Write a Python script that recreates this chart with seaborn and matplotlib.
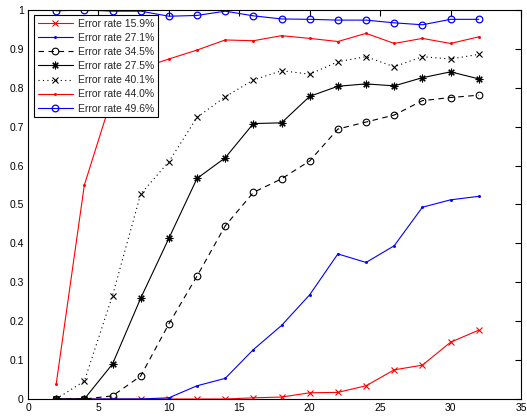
import matplotlib
matplotlib.use("Agg")
import matplotlib.pyplot as plt
import seaborn as sns
import pandas as pd
from matplotlib.ticker import FuncFormatter, MultipleLocator

sns.set_style("white")
plt.rcParams["font.family"] = ["Liberation Sans", "DejaVu Sans"]

# Shared x grid
steps = [2, 4, 6, 8, 10, 12, 14, 16, 18, 20, 22, 24, 26, 28, 30, 32]

err_159 = [0, 0, 0, 0, 0, 0, 0, 0.003, 0.005, 0.016, 0.017, 0.034, 0.075, 0.087, 0.146, 0.177]
err_271 = [0, 0, 0, 0, 0.003, 0.034, 0.053, 0.127, 0.189, 0.268, 0.373, 0.351, 0.394, 0.493, 0.512, 0.521]
err_345 = [0, 0, 0.008, 0.059, 0.193, 0.316, 0.445, 0.531, 0.566, 0.612, 0.694, 0.712, 0.730, 0.767, 0.775, 0.781]
err_275 = [0, 0, 0.090, 0.259, 0.413, 0.567, 0.620, 0.708, 0.710, 0.778, 0.804, 0.810, 0.805, 0.826, 0.841, 0.823]
err_401 = [0, 0.046, 0.266, 0.527, 0.610, 0.724, 0.777, 0.820, 0.844, 0.835, 0.867, 0.880, 0.854, 0.880, 0.874, 0.886]
err_440 = [0.038, 0.550, 0.780, 0.850, 0.874, 0.897, 0.923, 0.921, 0.934, 0.927, 0.919, 0.940, 0.914, 0.927, 0.914, 0.931]
err_496 = [0.998, 1.0, 0.997, 0.997, 0.984, 0.986, 0.997, 0.985, 0.977, 0.976, 0.974, 0.974, 0.967, 0.962, 0.976, 0.976]

labels = ["Error rate 15.9%", "Error rate 27.1%", "Error rate 34.5%", "Error rate 27.5%",
          "Error rate 40.1%", "Error rate 44.0%", "Error rate 49.6%"]
series = [err_159, err_271, err_345, err_275, err_401, err_440, err_496]

styles = [
    dict(color="#ff0000", marker="x", linestyle="-", markersize=4, mfc="#ff0000", mec="#ff0000", mew=0.8),
    dict(color="#0000ff", marker=".", linestyle="-", markersize=3, mfc="#0000ff", mec="#0000ff", mew=0.6),
    dict(color="black", marker="o", linestyle=(0, (5, 4)), markersize=4.8, mfc="none", mec="black", mew=0.8),
    dict(color="black", marker=(8, 2, 0), linestyle="-", markersize=5.5, mfc="black", mec="black", mew=0.8),
    dict(color="black", marker="x", linestyle=(0, (1, 3)), markersize=3.8, mfc="black", mec="black", mew=0.8),
    dict(color="#ff0000", marker=".", linestyle="-", markersize=3, mfc="#ff0000", mec="#ff0000", mew=0.6),
    dict(color="#0000ff", marker="o", linestyle="-", markersize=4.8, mfc="none", mec="#0000ff", mew=0.9),
]

fig = plt.figure(figsize=(5.27, 4.16), dpi=100)
ax = fig.add_axes([28 / 527, 17 / 416, 493 / 527, 389 / 416])

for lab, vals, st in zip(labels, series, styles):
    df = pd.DataFrame({"step": steps, "rate": vals})
    sns.lineplot(data=df, x="step", y="rate", ax=ax, label=lab, linewidth=0.8,
                 color=st["color"], marker=st["marker"], linestyle=st["linestyle"],
                 markersize=st["markersize"], markerfacecolor=st["mfc"],
                 markeredgecolor=st["mec"], markeredgewidth=st["mew"])

ax.set_xlim(0, 35)
ax.set_ylim(0, 1)
ax.set_xlabel("")
ax.set_ylabel("")
ax.xaxis.set_major_locator(MultipleLocator(5))
ax.yaxis.set_major_locator(MultipleLocator(0.1))
fmt = FuncFormatter(lambda v, p: f"{v:g}")
ax.xaxis.set_major_formatter(fmt)
ax.yaxis.set_major_formatter(fmt)
ax.tick_params(direction="in", length=4, width=0.8, top=True, right=True,
               labelsize=7.5, pad=3, colors="black")
for sp in ax.spines.values():
    sp.set_visible(True)
    sp.set_color("black")
    sp.set_linewidth(0.8)

leg = ax.legend(loc="upper left", bbox_to_anchor=(6 / 493, 1 - 5 / 389), borderaxespad=0,
                fontsize=7.5, frameon=True, fancybox=False, framealpha=1,
                edgecolor="black", handlelength=3.4, handletextpad=0.5,
                labelspacing=0.4, borderpad=0.35)
leg.get_frame().set_linewidth(0.8)

fig.savefig("out.png", dpi=100, facecolor="white")
